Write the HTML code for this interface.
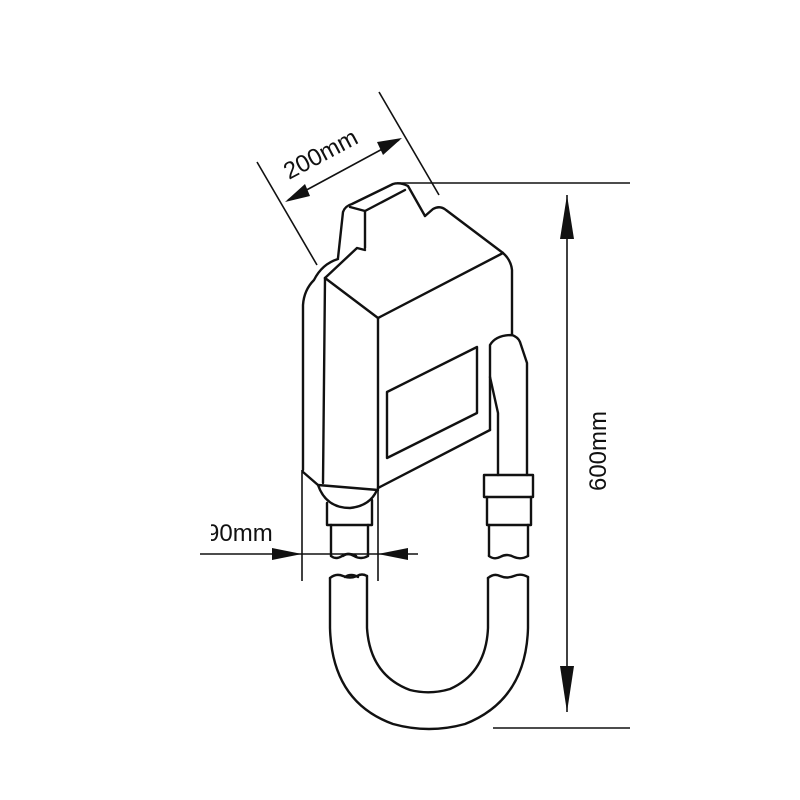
<!DOCTYPE html>
<html><head><meta charset="utf-8"><style>
html,body{margin:0;padding:0;background:#fff;width:800px;height:800px;overflow:hidden}
svg{display:block}
text{font-family:"Liberation Sans",sans-serif;fill:#111}
</style></head><body>
<svg width="800" height="800" viewBox="0 0 800 800" xmlns="http://www.w3.org/2000/svg">
<g fill="none" stroke="#111" stroke-width="2.4" stroke-linejoin="round" stroke-linecap="round">
<path d="M338,258 L343,212 Q345,206 352,204 L393,184 Q400,182 408,186 L425,216"/>
<path d="M350,207 L365,211 L365,248"/>
<path d="M365,211 L405,190"/>
<path d="M303,470 L303,305 Q304,290 314,280 Q322,264 338,259"/>
<path d="M325,278 L357,248 L365,250 M425,216 L433,209 Q440,205 446,210 L503,253 Q511,260 512,270 L512,335"/>
<path d="M325,278 L378,318 L503,253"/>
<path d="M325,278 L323,483"/>
<path d="M378,318 L378,488"/>
<path d="M378,488 L490,430"/>
<path d="M387,392 L477,347 L477,413 L387,458 Z"/>
<path d="M303,472 L318,485 L378,490"/>
<path d="M318,485 Q326,508 350,508 Q370,506 377,490"/>
<path d="M327,503 L327,525 L372,525 L372,500"/>
<path d="M331,525 L331,556 M368,525 L368,556"/>
<path d="M331,556 Q336,560 342,556 Q348,552 354,556 Q361,560 368,556"/>
<path d="M343,556 Q348,552 356,556"/>
<path d="M490,430 L490,345 Q496,335 512,335 Q518,337 520,342 L527,363 L527,475"/>
<path d="M490,377 L498,413 L498,475"/>
<rect x="484" y="475" width="49" height="22"/>
<path d="M487,497 L487,525 L531,525 L531,497"/>
<path d="M489,525 L489,556 M528,525 L528,556"/>
<path d="M489,556 Q494,560 500,557 Q507,553 514,557 Q521,560 528,556"/>
<path d="M330,578 Q336,573 343,576 Q350,579 357,576 Q362,573 367,576"/>
<path d="M345,577 Q351,573 358,577"/>
<path d="M488,578 Q494,573 500,576 Q507,579 514,576 Q521,573 528,577"/>
<path d="M330,578 L330,628 Q332,702 393,724 Q429,734 465,724 Q526,700 528,628 L528,577"/>
<path d="M367,576 L367,628 Q370,675 410,690 Q430,695 450,689 Q486,673 488,628 L488,578"/>
</g>
<g stroke="#111" stroke-width="1.6" fill="none">
<line x1="257" y1="162" x2="317" y2="265"/>
<line x1="379" y1="92" x2="439" y2="195"/>
<line x1="288" y1="200" x2="399" y2="140"/>
<line x1="397" y1="183" x2="630" y2="183"/>
<line x1="493" y1="728" x2="630" y2="728"/>
<line x1="567" y1="195" x2="567" y2="712"/>
<line x1="302" y1="470" x2="302" y2="581"/>
<line x1="378" y1="488" x2="378" y2="581"/>
<line x1="200" y1="554" x2="418" y2="554"/>
</g>
<g fill="#111">
<polygon points="285,202 305,184 310,196"/>
<polygon points="402,138 377,142 383,155"/>
<polygon points="567,195 560,239 574,239"/>
<polygon points="567,712 560,666 574,666"/>
<polygon points="302,554 272,548 272,560"/>
<polygon points="378,554 408,548 408,560"/>
</g>
<text x="0" y="0" font-size="24" transform="translate(289,180) rotate(-28)">200mm</text>
<text x="0" y="0" font-size="24" text-anchor="middle" transform="translate(606,451) rotate(-90)">600mm</text>
<text x="206" y="541" font-size="24">90mm</text>
<rect x="175" y="515" width="36" height="32" fill="#fff"/>
</svg>
</body></html>
